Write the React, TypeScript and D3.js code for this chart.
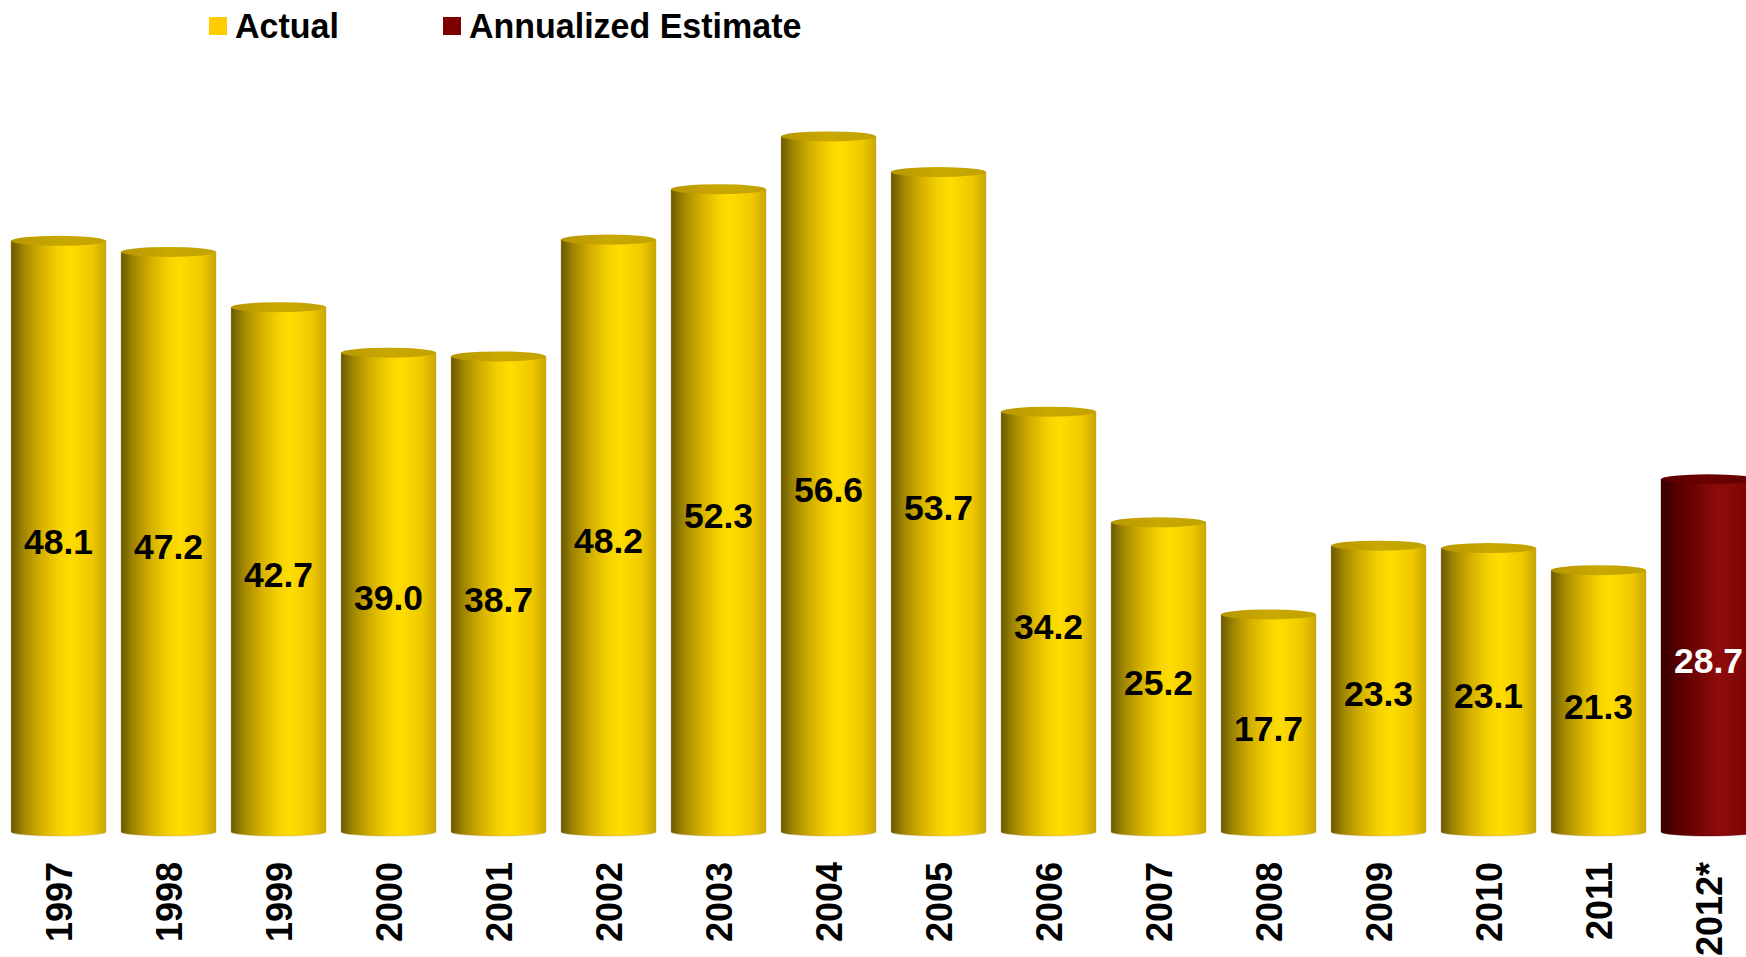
import React from "react";
import * as d3 from "d3";

const years = ["1997","1998","1999","2000","2001","2002","2003","2004","2005","2006","2007","2008","2009","2010","2011","2012*"];
const values = [48.1,47.2,42.7,39.0,38.7,48.2,52.3,56.6,53.7,34.2,25.2,17.7,23.3,23.1,21.3,28.7];
const estimateFlags = [false,false,false,false,false,false,false,false,false,false,false,false,false,false,false,true];
const legendItems = [
  { label: "Actual", color: "#FFCC00", x: 209 },
  { label: "Annualized Estimate", color: "#7F0000", x: 443 },
];

const W = 1746, H = 957;
const baseY = 832;

export default function App() {
  const x = d3.scaleBand<string>().domain(years).range([3.5, 1763.5]).paddingInner(15 / 110).paddingOuter(7.5 / 110);
  const y = d3.scaleLinear().domain([0, 60]).range([baseY, baseY - 60 * 12.29]);
  const bw = x.bandwidth();
  const ryTop = 5, ryBot = 4;
  const font = "'Liberation Sans', Arial, sans-serif";
  return (
    <svg width={W} height={H} style={{ position: "absolute", left: 0, top: 0, background: "#fff" }} fontFamily={font}>
      <defs>
        <linearGradient id="gy" x1="0" x2="1" y1="0" y2="0">
          <stop offset="0" stopColor="#6a5800" />
          <stop offset="0.12" stopColor="#9c8300" />
          <stop offset="0.3" stopColor="#d1ad00" />
          <stop offset="0.5" stopColor="#f5d200" />
          <stop offset="0.62" stopColor="#ffdd00" />
          <stop offset="0.85" stopColor="#f0c900" />
          <stop offset="1" stopColor="#c9a700" />
        </linearGradient>
        <linearGradient id="gyt" x1="0" x2="1" y1="0" y2="0">
          <stop offset="0" stopColor="#b89700" />
          <stop offset="0.5" stopColor="#c9a800" />
          <stop offset="1" stopColor="#c2a200" />
        </linearGradient>
        <linearGradient id="gr" x1="0" x2="1" y1="0" y2="0">
          <stop offset="0" stopColor="#350000" />
          <stop offset="0.15" stopColor="#520000" />
          <stop offset="0.35" stopColor="#6e0303" />
          <stop offset="0.6" stopColor="#8f0c0c" />
          <stop offset="0.8" stopColor="#850606" />
          <stop offset="1" stopColor="#780000" />
        </linearGradient>
        <linearGradient id="grt" x1="0" x2="1" y1="0" y2="0">
          <stop offset="0" stopColor="#5a0000" />
          <stop offset="0.5" stopColor="#6c0000" />
          <stop offset="1" stopColor="#650000" />
        </linearGradient>
      </defs>
      <g>
        {legendItems.map((it) => (
          <g key={it.label}>
            <rect x={it.x} y={17} width={18} height={18} fill={it.color} />
            <text x={it.x + 26} y={38} fontSize={34} fontWeight="bold" transform="translate(0,38) scale(1,1.03) translate(0,-38)">{it.label}</text>
          </g>
        ))}
      </g>
      {years.map((yr, i) => {
        const x0 = x(yr)!;
        const cx = x0 + bw / 2;
        const yt = y(values[i]);
        const est = estimateFlags[i];
        const body = est ? "url(#gr)" : "url(#gy)";
        const top = est ? "url(#grt)" : "url(#gyt)";
        const mid = (yt + baseY) / 2;
        return (
          <g key={yr}>
            <path
              d={`M${x0},${yt} L${x0},${baseY} A${bw / 2},${ryBot} 0 0 0 ${x0 + bw},${baseY} L${x0 + bw},${yt} Z`}
              fill={body}
              stroke={est ? "#5a0000" : "#b8a060"}
              strokeWidth={0.4}
            />
            <ellipse cx={cx} cy={yt} rx={bw / 2} ry={ryTop} fill={top} />
            <text x={cx} y={mid + 17.5} textAnchor="middle" fontSize={35.5} fontWeight="bold" fill={est ? "#fff" : "#000"}>
              {values[i].toFixed(1)}
            </text>
            <text
              transform={`translate(${cx + 13.5},862) rotate(-90)`}
              textAnchor="end"
              fontSize={36}
              fontWeight="bold"
              fill="#000"
            >
              {yr}
            </text>
          </g>
        );
      })}
    </svg>
  );
}
